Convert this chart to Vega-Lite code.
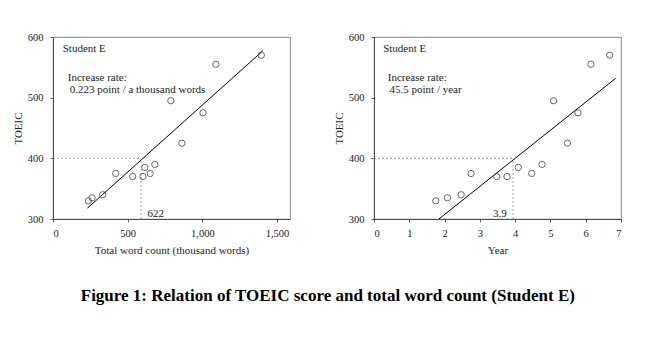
{
  "$schema": "https://vega.github.io/schema/vega-lite/v6.json",
  "padding": {"left": 11, "top": 31, "right": 5, "bottom": 5},
  "background": "white",
  "spacing": 41,
  "config": {
    "font": "Liberation Serif",
    "view": {"stroke": "#666", "strokeWidth": 0.8},
    "axis": {
      "labelFont": "Liberation Serif", "labelFontSize": 10.5, "labelColor": "#222",
      "titleFont": "Liberation Serif", "titleFontSize": 11, "titleFontWeight": "normal", "titleColor": "#222",
      "grid": false, "domainColor": "#333", "domainWidth": 0.8, "tickColor": "#333", "tickSize": 3, "tickWidth": 0.8
    },
    "axisX": {"labelPadding": 6, "titlePadding": 6},
    "axisY": {"labelPadding": 7, "titlePadding": 4}
  },
  "title": {
    "text": "Figure 1: Relation of TOEIC score and total word count (Student E)",
    "orient": "bottom", "anchor": "middle", "font": "Liberation Serif", "fontSize": 17,
    "fontWeight": "bold", "color": "#000", "offset": 32, "dx": 11
  },
  "datasets": {
    "wordPts": [
      {"x": 237, "y": 330}, {"x": 262, "y": 335}, {"x": 333, "y": 340}, {"x": 420, "y": 375},
      {"x": 533, "y": 370}, {"x": 602, "y": 370}, {"x": 615, "y": 385}, {"x": 651, "y": 375},
      {"x": 682, "y": 390}, {"x": 789, "y": 495}, {"x": 863, "y": 425}, {"x": 1004, "y": 475},
      {"x": 1091, "y": 555}, {"x": 1395, "y": 570}
    ],
    "wordFit": [{"x": 231, "y": 318}, {"x": 1404, "y": 577}],
    "wordGuide": [
      {"x": 0, "y": 400, "x2": 590, "y2": 400},
      {"x": 590, "y": 300, "x2": 590, "y2": 400}
    ],
    "wordNotes": [
      {"x": 65, "y": 581, "label": "Student E"},
      {"x": 99, "y": 533, "label": "Increase rate:"},
      {"x": 112, "y": 512, "label": "0.223 point / a thousand words"},
      {"x": 633, "y": 309, "label": "622"}
    ],
    "yearPts": [
      {"x": 1.75, "y": 330}, {"x": 2.08, "y": 335}, {"x": 2.47, "y": 340}, {"x": 2.75, "y": 375},
      {"x": 3.48, "y": 370}, {"x": 3.77, "y": 370}, {"x": 4.09, "y": 385}, {"x": 4.47, "y": 375},
      {"x": 4.76, "y": 390}, {"x": 5.09, "y": 495}, {"x": 5.48, "y": 425}, {"x": 5.78, "y": 475},
      {"x": 6.15, "y": 555}, {"x": 6.68, "y": 570}
    ],
    "yearFit": [{"x": 1.84, "y": 300}, {"x": 6.85, "y": 532}],
    "yearGuide": [
      {"x": 0, "y": 400, "x2": 3.94, "y2": 400},
      {"x": 3.94, "y": 300, "x2": 3.94, "y2": 400}
    ],
    "yearNotes": [
      {"x": 0.26, "y": 581, "label": "Student E"},
      {"x": 0.39, "y": 533, "label": "Increase rate:"},
      {"x": 0.44, "y": 512, "label": "45.5 point / year"},
      {"x": 3.37, "y": 309, "label": "3.9"}
    ]
  },
  "hconcat": [
    {
      "width": 237,
      "height": 182,
      "encoding": {
        "x": {"field": "x", "type": "quantitative", "scale": {"domain": [0, 1587], "nice": false, "zero": false},
              "axis": {"values": [0, 500, 1000, 1500], "format": ",.0f", "title": "Total word count (thousand words)"}},
        "y": {"field": "y", "type": "quantitative", "scale": {"domain": [300, 600], "nice": false, "zero": false},
              "axis": {"values": [300, 400, 500, 600], "title": "TOEIC"}}
      },
      "layer": [
        {"data": {"name": "wordGuide"}, "mark": {"type": "rule", "color": "#888", "strokeDash": [2, 2], "strokeWidth": 0.8},
         "encoding": {"x2": {"field": "x2"}, "y2": {"field": "y2"}}},
        {"data": {"name": "wordFit"}, "mark": {"type": "line", "color": "#000", "strokeWidth": 1}},
        {"data": {"name": "wordPts"}, "mark": {"type": "point", "shape": "circle", "filled": false, "stroke": "#444", "strokeWidth": 0.8, "size": 40, "opacity": 1}},
        {"data": {"name": "wordNotes"}, "mark": {"type": "text", "align": "left", "baseline": "middle", "font": "Liberation Serif", "fontSize": 11, "color": "#222"},
         "encoding": {"text": {"field": "label"}}}
      ]
    },
    {
      "width": 247,
      "height": 182,
      "encoding": {
        "x": {"field": "x", "type": "quantitative", "scale": {"domain": [0, 7], "nice": false, "zero": false},
              "axis": {"values": [0, 1, 2, 3, 4, 5, 6, 7], "title": "Year"}},
        "y": {"field": "y", "type": "quantitative", "scale": {"domain": [300, 600], "nice": false, "zero": false},
              "axis": {"values": [300, 400, 500, 600], "title": "TOEIC"}}
      },
      "layer": [
        {"data": {"name": "yearGuide"}, "mark": {"type": "rule", "color": "#888", "strokeDash": [2, 2], "strokeWidth": 0.8},
         "encoding": {"x2": {"field": "x2"}, "y2": {"field": "y2"}}},
        {"data": {"name": "yearFit"}, "mark": {"type": "line", "color": "#000", "strokeWidth": 1}},
        {"data": {"name": "yearPts"}, "mark": {"type": "point", "shape": "circle", "filled": false, "stroke": "#444", "strokeWidth": 0.8, "size": 40, "opacity": 1}},
        {"data": {"name": "yearNotes"}, "mark": {"type": "text", "align": "left", "baseline": "middle", "font": "Liberation Serif", "fontSize": 11, "color": "#222"},
         "encoding": {"text": {"field": "label"}}}
      ]
    }
  ]
}
